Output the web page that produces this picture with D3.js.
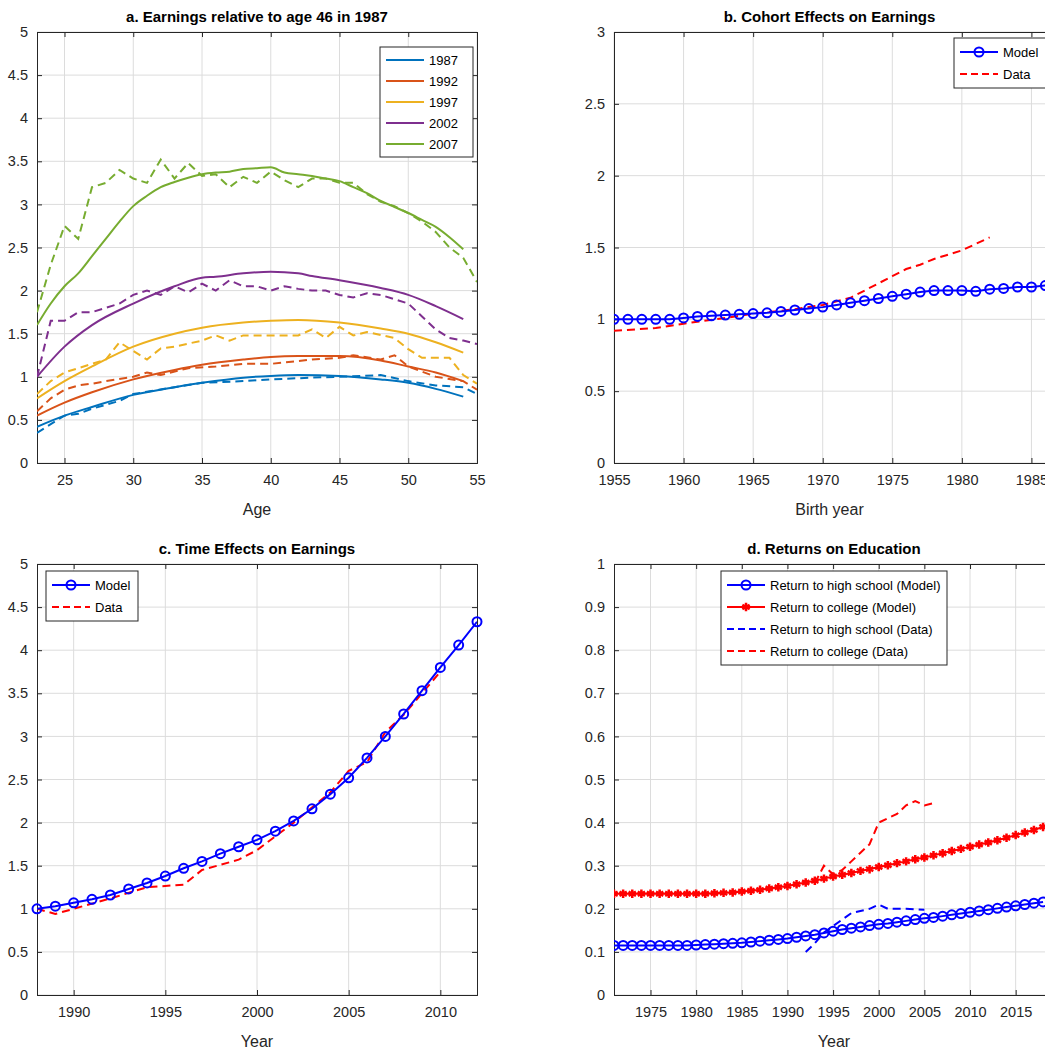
<!DOCTYPE html><html><head><meta charset="utf-8"><script src="https://cdn.jsdelivr.net/npm/d3@7"></script>
<style>body{margin:0;background:#fff}svg{font-family:"Liberation Sans",Arial,sans-serif}</style></head><body><svg id="c" width="1045" height="1051"></svg>
<script>
const ageModel=d3.range(23,55), ageData=d3.range(23,56);
function fill(keys){const k=Object.keys(keys).map(Number).sort((a,b)=>a-b);return k.map(x=>[x,keys[x]]);}
const m1987={23:0.42,25:0.55,27:0.65,30:0.79,33:0.88,35:0.93,38:0.99,40:1.01,42:1.02,45:1.01,48:0.97,50:0.93,52:0.86,54:0.77};
const d1987={23:0.35,24:0.45,25:0.55,26:0.57,27:0.63,29:0.72,30:0.8,33:0.88,35:0.93,38:0.95,40:0.97,43:0.99,45:1.0,48:1.02,50:0.95,52:0.9,54:0.88,55:0.8};
const m1992={23:0.55,25:0.7,27:0.82,30:0.97,33:1.08,35:1.14,38:1.2,40:1.23,42:1.24,45:1.24,48:1.19,50:1.12,52:1.05,54:0.95};
const d1992={23:0.6,24:0.75,25:0.85,26:0.9,27:0.92,28:0.95,30:1.0,31:1.05,32:1.02,34:1.1,36:1.12,38:1.15,40:1.15,43:1.2,45:1.22,46:1.25,48:1.2,49:1.25,50:1.12,52:1.0,54:0.95,55:0.85};
const m1997={23:0.75,25:0.95,27:1.12,30:1.35,33:1.5,35:1.57,38:1.63,40:1.65,42:1.66,45:1.63,48:1.56,50:1.5,52:1.4,54:1.28};
const d1997={23:0.8,24:0.95,25:1.05,26:1.1,27:1.15,28:1.2,29:1.4,30:1.3,31:1.2,32:1.33,33:1.35,35:1.42,36:1.48,37:1.42,38:1.48,40:1.48,42:1.48,43:1.55,44:1.45,45:1.58,46:1.48,47:1.52,49:1.45,50:1.32,51:1.22,53:1.22,54:1.02,55:0.92};
const m2002={23:1.0,25:1.35,27:1.6,30:1.85,33:2.05,35:2.15,36:2.16,38:2.2,40:2.22,42:2.2,43:2.17,45:2.12,48:2.03,50:1.95,52:1.82,54:1.67};
const d2002={23:1.0,24:1.65,25:1.65,26:1.75,27:1.75,28:1.8,29:1.85,30:1.95,31:2.0,32:1.95,33:2.05,34:1.98,35:2.08,36:2.0,37:2.12,38:2.05,39:2.05,40:2.0,41:2.05,42:2.02,43:2.0,44:2.0,45:1.95,46:1.92,47:1.97,48:1.95,49:1.9,50:1.85,51:1.7,52:1.55,53:1.45,54:1.42,55:1.38};
const m2007={23:1.6,24:1.85,25:2.05,26:2.2,27:2.4,28:2.6,29:2.8,30:2.98,31:3.1,32:3.2,33:3.26,34:3.31,35:3.35,36:3.37,37:3.38,38:3.41,39:3.42,40:3.43,41:3.37,42:3.35,43:3.33,44:3.3,45:3.27,46:3.2,47:3.13,48:3.04,49:2.97,50:2.9,51:2.82,52:2.74,53:2.62,54:2.48};
const d2007={23:1.75,24:2.3,25:2.75,26:2.6,27:3.2,28:3.25,29:3.4,30:3.3,31:3.25,32:3.52,33:3.3,34:3.48,35:3.33,36:3.35,37:3.2,38:3.32,39:3.25,40:3.38,41:3.28,42:3.2,43:3.3,44:3.3,45:3.25,46:3.25,47:3.12,48:3.03,49:2.98,50:2.9,51:2.8,52:2.68,53:2.5,54:2.38,55:2.1};
const yearsA=["1987","1992","1997","2002","2007"], colorsA=["#0072BD","#D95319","#EDB120","#7E2F8E","#77AC30"];
const modelA=[m1987,m1992,m1997,m2002,m2007], dataA=[d1987,d1992,d1997,d2002,d2007];

const cohortYears=d3.range(1955,1991);
const cohortModel=[1.0,1.0,1.0,1.0,1.0,1.01,1.02,1.025,1.03,1.035,1.04,1.045,1.055,1.065,1.075,1.085,1.1,1.115,1.13,1.145,1.16,1.175,1.19,1.2,1.2,1.2,1.195,1.21,1.215,1.225,1.225,1.235,1.24,1.25,1.255,1.26];
const cohortData={1955:0.92,1958:0.94,1960:0.97,1963:1.01,1965:1.04,1968:1.07,1970:1.1,1972:1.15,1974:1.25,1975:1.3,1976:1.35,1977:1.38,1978:1.42,1980:1.48,1982:1.57};

const tYears=d3.range(1988,2013);
const tModel=[1.0,1.03,1.07,1.11,1.16,1.23,1.3,1.38,1.47,1.55,1.64,1.72,1.8,1.9,2.02,2.16,2.33,2.52,2.75,3.0,3.26,3.53,3.8,4.06,4.33];
const tData={1988:1.0,1989:0.94,1990:1.0,1992:1.12,1994:1.25,1996:1.28,1997:1.45,1999:1.57,2000:1.68,2002:2.0,2004:2.35,2005:2.6,2006:2.7,2007:3.05,2008:3.25,2009:3.5,2010:3.75};

const eYears=d3.range(1971,2019);
const hsModel=[0.115,0.115,0.115,0.115,0.115,0.115,0.115,0.115,0.115,0.116,0.117,0.118,0.119,0.12,0.121,0.123,0.125,0.127,0.129,0.131,0.134,0.137,0.14,0.144,0.148,0.152,0.155,0.158,0.161,0.164,0.166,0.169,0.172,0.175,0.178,0.18,0.183,0.186,0.189,0.192,0.195,0.198,0.201,0.204,0.207,0.21,0.213,0.216];
const colModel=[0.235,0.235,0.235,0.235,0.235,0.235,0.235,0.235,0.235,0.235,0.235,0.236,0.237,0.238,0.24,0.242,0.244,0.247,0.25,0.253,0.257,0.261,0.265,0.27,0.275,0.279,0.283,0.288,0.292,0.297,0.301,0.306,0.31,0.315,0.319,0.324,0.329,0.334,0.339,0.344,0.349,0.354,0.359,0.365,0.371,0.377,0.383,0.39];
const hsData={1992:0.1,1993:0.12,1994:0.145,1995:0.16,1996:0.175,1997:0.19,1999:0.2,2000:0.21,2001:0.2,2003:0.2,2005:0.198};
const colData={1993:0.26,1994:0.3,1995:0.28,1996:0.29,1997:0.31,1998:0.33,1999:0.35,2000:0.4,2001:0.41,2002:0.42,2003:0.44,2004:0.45,2005:0.44,2006:0.445};

const svg=d3.select("#c");
function panel(o){
  const g=svg.append("g");
  const x=d3.scaleLinear().domain(o.xd).range([o.x0,o.x0+o.w]);
  const y=d3.scaleLinear().domain(o.yd).range([o.y0+o.h,o.y0]);
  const defs=svg.append("defs");const cid="clip"+Math.random().toString(36).slice(2);
  defs.append("clipPath").attr("id",cid).append("rect").attr("x",o.x0).attr("y",o.y0-4).attr("width",o.w).attr("height",o.h+8);
  g.selectAll(".gx").data(o.xt).join("line").attr("x1",d=>x(d)).attr("x2",d=>x(d)).attr("y1",o.y0).attr("y2",o.y0+o.h).attr("stroke","#dcdcdc");
  g.selectAll(".gy").data(o.yt).join("line").attr("y1",d=>y(d)).attr("y2",d=>y(d)).attr("x1",o.x0).attr("x2",o.x0+o.w).attr("stroke","#dcdcdc");
  g.append("g").attr("transform",`translate(0,${o.y0+o.h})`).call(d3.axisBottom(x).tickValues(o.xt).tickSize(-5).tickPadding(12).tickFormat(d3.format("d")));
  g.append("g").attr("transform",`translate(${o.x0},0)`).call(d3.axisLeft(y).tickValues(o.yt).tickSize(-5).tickPadding(9).tickFormat(d=>d));
  g.append("g").attr("transform",`translate(0,${o.y0})`).call(d3.axisTop(x).tickValues(o.xt).tickSize(-5).tickFormat(""));
  g.append("g").attr("transform",`translate(${o.x0+o.w},0)`).call(d3.axisRight(y).tickValues(o.yt).tickSize(-5).tickFormat(""));
  g.selectAll(".domain").attr("stroke","#262626");g.selectAll(".tick line").attr("stroke","#262626");
  g.selectAll("text").attr("font-size",14.5).attr("fill","#262626").attr("font-family","Liberation Sans, Arial");
  g.append("text").attr("x",o.x0+o.tw/2).attr("y",o.y0-10).attr("text-anchor","middle").attr("font-weight","bold").attr("font-size",15).attr("fill","#000").text(o.title);
  g.append("text").attr("x",o.x0+o.tw/2).attr("y",o.y0+o.h+52).attr("text-anchor","middle").attr("font-size",16).attr("fill","#262626").text(o.xl);
  const pg=g.append("g").attr("clip-path",`url(#${cid})`);
  return {x,y,pg,g};
}
const line=(x,y)=>d3.line().x(d=>x(d[0])).y(d=>y(d[1]));
function addLegend(g,x0,y0,w,items){
  const h=items.length*22+6;
  g.append("rect").attr("x",x0).attr("y",y0).attr("width",w).attr("height",h).attr("fill","#fff").attr("stroke","#262626");
  items.forEach((it,i)=>{const yy=y0+14+i*22;
    g.append("line").attr("x1",x0+6).attr("x2",x0+44).attr("y1",yy).attr("y2",yy).attr("stroke",it.c).attr("stroke-width",2).attr("stroke-dasharray",it.dash?"7,4":null);
    if(it.m==="o")g.append("circle").attr("cx",x0+25).attr("cy",yy).attr("r",4.5).attr("fill","none").attr("stroke",it.c).attr("stroke-width",2);
    if(it.m==="*")g.append("path").attr("d",d3.symbol(d3.symbolAsterisk,50)()).attr("transform",`translate(${x0+25},${yy})`).attr("stroke",it.c).attr("stroke-width",2.5);
    g.append("text").attr("x",x0+49).attr("y",yy+5).attr("font-size",13).attr("fill","#000").text(it.t);});
}
// Panel a
{const p=panel({x0:37,y0:32,w:440,h:431,tw:440,xd:[23,55],yd:[0,5],xt:[25,30,35,40,45,50,55],yt:d3.range(0,5.01,0.5),title:"a. Earnings relative to age 46 in 1987",xl:"Age"});
 modelA.forEach((m,i)=>{p.pg.append("path").datum(fill(m)).attr("d",d3.line().curve(d3.curveMonotoneX).x(d=>p.x(d[0])).y(d=>p.y(d[1]))).attr("fill","none").attr("stroke",colorsA[i]).attr("stroke-width",2);
   p.pg.append("path").datum(fill(dataA[i])).attr("d",line(p.x,p.y)).attr("fill","none").attr("stroke",colorsA[i]).attr("stroke-width",2).attr("stroke-dasharray","8,5");});
 const lg=p.g;const x0=380,y0=47;lg.append("rect").attr("x",x0).attr("y",y0).attr("width",93).attr("height",110).attr("fill","#fff").attr("stroke","#262626");
 yearsA.forEach((t,i)=>{const yy=y0+13+i*21;lg.append("line").attr("x1",x0+6).attr("x2",x0+44).attr("y1",yy).attr("y2",yy).attr("stroke",colorsA[i]).attr("stroke-width",2);
   lg.append("text").attr("x",x0+49).attr("y",yy+5).attr("font-size",13).text(t);});
}
// Panel b
{const p=panel({x0:614,y0:32,w:487,h:431,tw:431,xd:[1955,1990],yd:[0,3],xt:[1955,1960,1965,1970,1975,1980,1985,1990],yt:d3.range(0,3.01,0.5),title:"b. Cohort Effects on Earnings",xl:"Birth year"});
 p.pg.append("path").datum(fill(cohortData)).attr("d",line(p.x,p.y)).attr("fill","none").attr("stroke","#f00").attr("stroke-width",2).attr("stroke-dasharray","8,5");
 const d=cohortYears.map((yr,i)=>[yr,cohortModel[i]]);
 p.pg.append("path").datum(d).attr("d",line(p.x,p.y)).attr("fill","none").attr("stroke","#00f").attr("stroke-width",2);
 p.pg.selectAll("circle").data(d).join("circle").attr("cx",q=>p.x(q[0])).attr("cy",q=>p.y(q[1])).attr("r",4.5).attr("fill","none").attr("stroke","#00f").attr("stroke-width",2);
 addLegend(p.g,954,38,100,[{t:"Model",c:"#00f",m:"o"},{t:"Data",c:"#f00",dash:1}]);
}
// Panel c
{const p=panel({x0:37,y0:564,w:440,h:431,tw:440,xd:[1988,2012],yd:[0,5],xt:[1990,1995,2000,2005,2010],yt:d3.range(0,5.01,0.5),title:"c. Time Effects on Earnings",xl:"Year"});
 p.pg.append("path").datum(fill(tData)).attr("d",line(p.x,p.y)).attr("fill","none").attr("stroke","#f00").attr("stroke-width",2).attr("stroke-dasharray","8,5");
 const d=tYears.map((yr,i)=>[yr,tModel[i]]);
 p.pg.append("path").datum(d).attr("d",line(p.x,p.y)).attr("fill","none").attr("stroke","#00f").attr("stroke-width",2);
 p.g.selectAll(".mc").data(d).join("circle").attr("cx",q=>p.x(q[0])).attr("cy",q=>p.y(q[1])).attr("r",4.5).attr("fill","none").attr("stroke","#00f").attr("stroke-width",2);
 addLegend(p.g,46,571,92,[{t:"Model",c:"#00f",m:"o"},{t:"Data",c:"#f00",dash:1}]);
}
// Panel d
{const p=panel({x0:614,y0:564,w:440,h:431,tw:440,xd:[1971,2019.2],yd:[0,1],xt:[1975,1980,1985,1990,1995,2000,2005,2010,2015],yt:d3.range(0,1.001,0.1).map(v=>+v.toFixed(1)),title:"d. Returns on Education",xl:"Year"});
 p.pg.append("path").datum(fill(hsData)).attr("d",line(p.x,p.y)).attr("fill","none").attr("stroke","#00f").attr("stroke-width",2).attr("stroke-dasharray","8,5");
 p.pg.append("path").datum(fill(colData)).attr("d",line(p.x,p.y)).attr("fill","none").attr("stroke","#f00").attr("stroke-width",2).attr("stroke-dasharray","8,5");
 const dh=eYears.map((yr,i)=>[yr,hsModel[i]]), dc=eYears.map((yr,i)=>[yr,colModel[i]]);
 p.pg.append("path").datum(dh).attr("d",line(p.x,p.y)).attr("fill","none").attr("stroke","#00f").attr("stroke-width",2);
 p.pg.append("path").datum(dc).attr("d",line(p.x,p.y)).attr("fill","none").attr("stroke","#f00").attr("stroke-width",2);
 p.pg.selectAll(".ch").data(dh).join("circle").attr("cx",q=>p.x(q[0])).attr("cy",q=>p.y(q[1])).attr("r",4.5).attr("fill","none").attr("stroke","#00f").attr("stroke-width",2);
 p.pg.selectAll(".cc").data(dc).join("path").attr("d",d3.symbol(d3.symbolAsterisk,50)()).attr("transform",q=>`translate(${p.x(q[0])},${p.y(q[1])})`).attr("stroke","#f00").attr("stroke-width",2.5);
 addLegend(p.g,721,571,226,[{t:"Return to high school (Model)",c:"#00f",m:"o"},{t:"Return to college (Model)",c:"#f00",m:"*"},{t:"Return to high school (Data)",c:"#00f",dash:1},{t:"Return to college (Data)",c:"#f00",dash:1}]);
}
</script></body></html>
